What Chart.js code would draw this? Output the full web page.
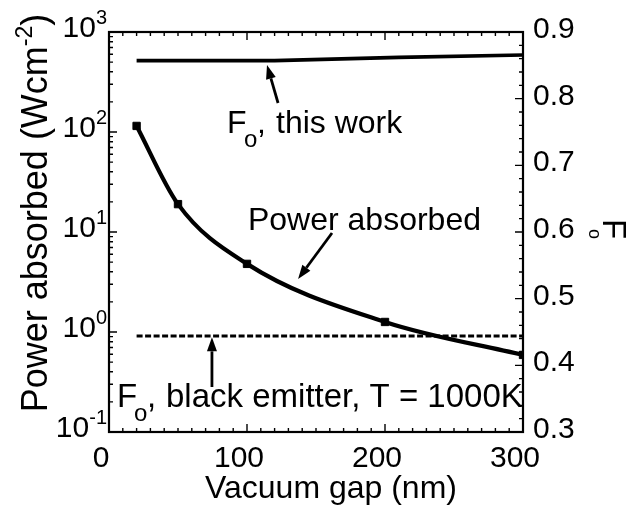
<!DOCTYPE html>
<html><head><meta charset="utf-8">
<script src="https://cdn.jsdelivr.net/npm/chart.js@4/dist/chart.umd.min.js"></script>
<style>html,body{margin:0;padding:0;background:#fff}canvas{display:block}</style>
</head><body>
<canvas id="c" width="629" height="510"></canvas>
<script>
// ---- data ----
const gapNm = [20, 50, 100, 200, 300];
const powerAbsorbed = [115, 19, 4.8, 1.26, 0.59];
const foGap = [20, 120, 210, 300];
const foThisWork = [0.857, 0.857, 0.862, 0.8655];
const blackGap = [20, 300];
const foBlackEmitter = [0.444, 0.444];
const xTickValues = [0, 100, 200, 300];
const yLogExponents = [-1, 0, 1, 2, 3];
const yRightTicks = [0.3, 0.4, 0.5, 0.6, 0.7, 0.8, 0.9];
const xTitle = 'Vacuum gap (nm)';
const yTitleMain = 'Power absorbed (Wcm';
const yTitleSup = '-2';
const annoThisWork = 'this work';
const annoPower = 'Power absorbed';
const annoBlack = 'black emitter, T = 1000K';

const FONT = '"Liberation Sans", Arial, Helvetica, sans-serif';
const toXY = (xs, ys) => xs.map((x, i) => ({x, y: ys[i]}));

function drawArrow(ctx, x1, y1, x2, y2) {
  const ang = Math.atan2(y2 - y1, x2 - x1), L = 14, W = 5;
  const bx = x2 - L * Math.cos(ang), by = y2 - L * Math.sin(ang);
  ctx.beginPath(); ctx.moveTo(x1, y1); ctx.lineTo(bx, by);
  ctx.lineWidth = 2.8; ctx.stroke();
  ctx.beginPath(); ctx.moveTo(x2, y2);
  ctx.lineTo(bx + W * Math.sin(ang), by - W * Math.cos(ang));
  ctx.lineTo(bx - W * Math.sin(ang), by + W * Math.cos(ang));
  ctx.closePath(); ctx.fill();
}

function drawFo(ctx, x0, base, rest, size) {
  ctx.textAlign = 'left'; ctx.textBaseline = 'alphabetic';
  ctx.font = size + 'px ' + FONT; ctx.fillText('F', x0, base);
  ctx.font = '24px ' + FONT; ctx.fillText('o', x0 + 17, base + 14);
  ctx.font = size + 'px ' + FONT; ctx.fillText(',', x0 + 30, base);
  ctx.fillText(rest, x0 + 49, base);
}

const decor = {
  id: 'decor',
  afterDraw(chart) {
    const {ctx, chartArea: a, scales: {x, y, y2}} = chart;
    ctx.save();
    ctx.strokeStyle = '#000'; ctx.fillStyle = '#000';
    // frame
    ctx.lineWidth = 2.2;
    ctx.strokeRect(a.left, a.top, a.right - a.left, a.bottom - a.top);
    // ticks
    ctx.lineWidth = 1.4;
    ctx.beginPath();
    for (let v = 0; v <= 300; v += 10) {
      const px = x.getPixelForValue(v), len = v % 100 === 0 ? 8 : 4;
      ctx.moveTo(px, a.bottom); ctx.lineTo(px, a.bottom - len);
      ctx.moveTo(px, a.top); ctx.lineTo(px, a.top + len);
    }
    for (let e = -1; e <= 2; e++) {
      for (let m = 1; m <= 9; m++) {
        const py = y.getPixelForValue(m * Math.pow(10, e)), len = m === 1 ? 8 : 4;
        ctx.moveTo(a.left, py); ctx.lineTo(a.left + len, py);
      }
    }
    for (let k = 0; k <= 30; k++) {
      const py = y2.getPixelForValue(0.3 + 0.02 * k), len = k % 5 === 0 ? 8 : 4;
      ctx.moveTo(a.right, py); ctx.lineTo(a.right - len, py);
    }
    ctx.stroke();

    // bottom tick labels
    ctx.textBaseline = 'alphabetic';
    ctx.font = '30px ' + FONT; ctx.textAlign = 'center';
    xTickValues.forEach(v => ctx.fillText(String(v), x.getPixelForValue(v) - 8, a.bottom + 35));
    // left tick labels 10^n
    yLogExponents.forEach(e => {
      const py = y.getPixelForValue(Math.pow(10, e));
      ctx.font = '20px ' + FONT;
      const sup = String(e), sw = ctx.measureText(sup).width;
      const xr = a.left - 2;
      ctx.textAlign = 'right'; ctx.fillText(sup, xr, py + 5 - 13);
      ctx.font = '30px ' + FONT; ctx.fillText('10', xr - sw, py + 5);
    });
    // right tick labels
    ctx.font = '30px ' + FONT; ctx.textAlign = 'left';
    yRightTicks.forEach(v => ctx.fillText(v.toFixed(1), a.right + 10, y2.getPixelForValue(v) + 6));

    // x title
    ctx.font = '32px ' + FONT; ctx.textAlign = 'center';
    ctx.fillText(xTitle, (a.left + a.right) / 2 + 15, a.bottom + 66);

    // left title (rotated)
    ctx.save();
    ctx.translate(47, 213);
    ctx.rotate(-Math.PI / 2);
    ctx.textAlign = 'left';
    ctx.font = '36px ' + FONT; const w1 = ctx.measureText(yTitleMain).width;
    ctx.font = '23px ' + FONT; const w2 = ctx.measureText(yTitleSup).width;
    ctx.font = '36px ' + FONT; const w3 = ctx.measureText(')').width;
    let sx = -(w1 + w2 + w3) / 2;
    ctx.fillText(yTitleMain, sx, 0);
    ctx.font = '23px ' + FONT; ctx.fillText(yTitleSup, sx + w1, -15);
    ctx.font = '36px ' + FONT; ctx.fillText(')', sx + w1 + w2, 0);
    ctx.restore();

    // right title F_o (rotated +90)
    ctx.save();
    ctx.translate(603, 219);
    ctx.rotate(Math.PI / 2);
    ctx.textAlign = 'left';
    ctx.font = '33px ' + FONT; ctx.fillText('F', 0, 0);
    ctx.font = '18px ' + FONT; ctx.fillText('o', 10, 14);
    ctx.restore();

    // annotations (anchored in data units)
    drawFo(ctx, x.getPixelForValue(85.5), y.getPixelForValue(98), annoThisWork, 32);
    ctx.font = '32px ' + FONT; ctx.textAlign = 'left';
    ctx.fillText(annoPower, x.getPixelForValue(100.7), y.getPixelForValue(10.5));
    drawFo(ctx, x.getPixelForValue(5.8), y2.getPixelForValue(0.3375), annoBlack, 33);

    // arrows
    drawArrow(ctx, x.getPixelForValue(122.5), y2.getPixelForValue(0.7935),
                   x.getPixelForValue(114.5), y2.getPixelForValue(0.8505));
    drawArrow(ctx, x.getPixelForValue(161.6), y.getPixelForValue(9.77),
                   x.getPixelForValue(137), y.getPixelForValue(3.39));
    drawArrow(ctx, x.getPixelForValue(74.6), y2.getPixelForValue(0.3675),
                   x.getPixelForValue(74.6), y2.getPixelForValue(0.442));
    ctx.restore();
  }
};

new Chart(document.getElementById('c'), {
  type: 'line',
  data: {
    datasets: [
      {
        label: 'Power absorbed', yAxisID: 'y',
        data: toXY(gapNm, powerAbsorbed),
        borderColor: '#000', backgroundColor: '#000', borderWidth: 4.2,
        pointStyle: 'rect', pointBorderWidth: 1, pointRadius: 5.2,
        cubicInterpolationMode: 'monotone', fill: false
      },
      {
        label: 'Fo, this work', yAxisID: 'y2',
        data: toXY(foGap, foThisWork),
        borderColor: '#000', borderWidth: 3.6, pointRadius: 0, tension: 0, fill: false
      },
      {
        label: 'Fo, black emitter', yAxisID: 'y2',
        data: toXY(blackGap, foBlackEmitter),
        borderColor: '#000', borderWidth: 3, borderDash: [6, 2.5], pointRadius: 0, fill: false
      }
    ]
  },
  options: {
    responsive: false, animation: false,
    layout: {padding: {top: 32, left: 0, right: 0, bottom: 0}},
    plugins: {legend: {display: false}, tooltip: {enabled: false}},
    scales: {
      x: {
        type: 'linear', min: 0, max: 300,
        grid: {display: false}, border: {display: false},
        ticks: {display: false},
        afterFit: s => { s.height = 78; }
      },
      y: {
        type: 'logarithmic', position: 'left', min: 0.1, max: 1000,
        grid: {display: false}, border: {display: false},
        ticks: {display: false},
        afterFit: s => { s.width = 109; }
      },
      y2: {
        type: 'linear', position: 'right', min: 0.3, max: 0.9,
        grid: {display: false}, border: {display: false},
        ticks: {display: false},
        afterFit: s => { s.width = 106; }
      }
    }
  },
  plugins: [decor]
});
</script>
</body></html>
